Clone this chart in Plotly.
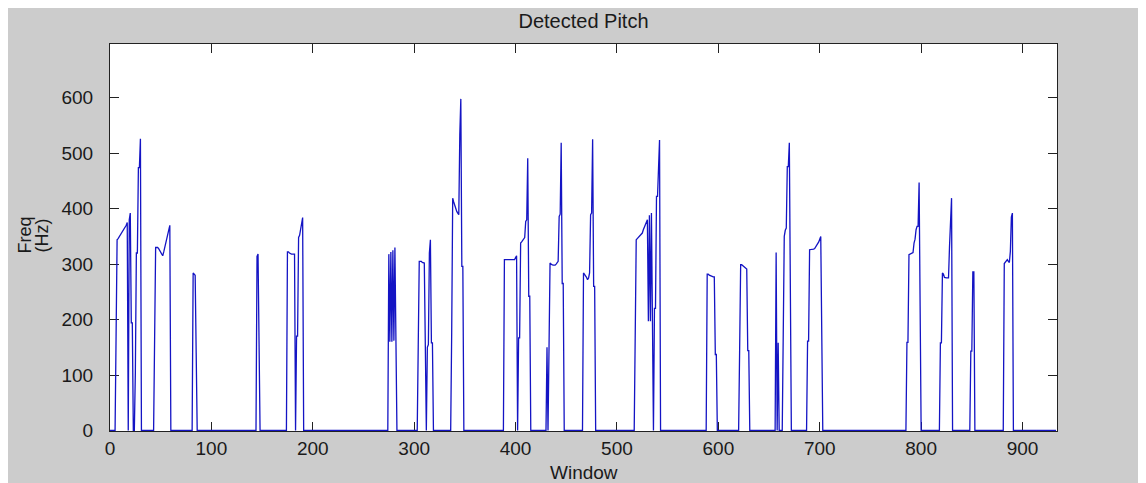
import numpy as np
import plotly.graph_objects as go

# ---- data: detected pitch (Hz) per analysis window; unvoiced windows are 0 ----
n_windows = 934
x_ticks = [0, 100, 200, 300, 400, 500, 600, 700, 800, 900]
y_ticks = [0, 100, 200, 300, 400, 500, 600]

seg_starts = [6, 25, 44, 82, 145, 175, 184, 275, 304, 337, 389, 403, 431, 467,
              518, 589, 621, 657, 664, 688, 786, 819, 849, 882]

seg_1 = [170, 344, 346, 349, 352, 355, 357, 360, 362, 365, 370, 375, 0, 380, 392, 194, 194]
seg_2 = [104, 320, 320, 474, 474, 526]
seg_3 = [164, 330, 330, 330, 328, 325, 320, 317, 315, 322, 330, 338, 345, 350, 360, 370]
seg_4 = [284, 282, 280, 140]
seg_5 = [314, 318, 159]
seg_6 = [322, 322, 320, 318, 318, 318, 318, 318]
seg_7 = [170, 170, 348, 352, 365, 375, 384]
seg_8 = [318, 160, 322, 160, 325, 162, 330, 158]
seg_9 = [152, 305, 305, 305, 303, 302, 302, 152, 0, 150, 155, 320, 344, 158, 158]
seg_10 = [176, 419, 412, 405, 400, 395, 392, 389, 533, 598, 296, 296]
seg_11 = [308, 308, 308, 308, 308, 308, 308, 308, 308, 308, 308, 312, 315]
seg_12 = [167, 167, 338, 340, 342, 345, 348, 377, 380, 491, 242, 242]
seg_13 = [150, 0, 150, 302, 300, 298, 298, 298, 298, 300, 303, 305, 386, 390, 519, 265, 265]
seg_14 = [284, 282, 280, 276, 272, 275, 284, 389, 392, 525, 260, 260]
seg_15 = [171, 344, 346, 348, 350, 352, 354, 356, 362, 366, 370, 374, 380, 197, 388,
          197, 392, 197, 0, 220, 220, 422, 422, 473, 524]
seg_16 = [282, 282, 280, 279, 278, 278, 277, 277, 137, 137]
seg_17 = [146, 299, 299, 297, 296, 294, 293, 291, 144, 144]
seg_18 = [321, 0, 158]
seg_19 = [173, 350, 361, 365, 476, 476, 519, 257]
seg_20 = [161, 161, 326, 326, 326, 326, 327, 328, 331, 334, 336, 340, 345, 350, 173]
seg_21 = [159, 159, 317, 318, 320, 321, 321, 338, 345, 362, 368, 368, 447, 224]
seg_22 = [158, 158, 284, 282, 276, 275, 275, 275, 275, 332, 383, 419]
seg_23 = [143, 143, 286, 286]
seg_24 = [301, 303, 306, 308, 305, 303, 323, 385, 392]

segments = [seg_1, seg_2, seg_3, seg_4, seg_5, seg_6, seg_7, seg_8, seg_9, seg_10,
            seg_11, seg_12, seg_13, seg_14, seg_15, seg_16, seg_17, seg_18, seg_19,
            seg_20, seg_21, seg_22, seg_23, seg_24]

window = np.arange(n_windows)
pitch = np.zeros(n_windows)
for start, vals in zip(seg_starts, segments):
    pitch[start:start + len(vals)] = vals

FONT = "Liberation Sans, Arial, sans-serif"
TXT = "#1a1a1a"

fig = go.Figure()
fig.add_trace(go.Scatter(x=window, y=pitch, mode="lines",
                         line=dict(color="#1414c4", width=1.3),
                         hoverinfo="skip", showlegend=False))

axis_common = dict(showgrid=False, zeroline=False, showline=True, mirror="ticks",
                   linecolor="#222222", linewidth=1, ticks="inside", ticklen=9,
                   tickcolor="#222222", tickwidth=1,
                   tickfont=dict(family=FONT, size=19, color=TXT),
                   layer="below traces")

# the page body adds an 8px offset, so the figure is 1138x475
W, H = 1138, 475
fig.update_layout(
    width=W, height=H, autosize=False,
    margin=dict(l=102, r=89, t=36, b=52, pad=0),
    paper_bgcolor="#cccccc", plot_bgcolor="white",
    title=dict(text="Detected Pitch", x=0.5, xref="paper", xanchor="center",
               y=1 - 13 / H, yanchor="middle",
               font=dict(family=FONT, size=20, color=TXT)),
    xaxis=dict(range=[0, n_windows], tickvals=x_ticks, **axis_common),
    yaxis=dict(range=[-1, 697], tickvals=y_ticks, ticklabelstandoff=12, **axis_common),
)

fig.add_annotation(text="Window", xref="paper", yref="paper", x=0.5, y=0,
                   yshift=-41, xanchor="center", yanchor="middle", showarrow=False,
                   font=dict(family=FONT, size=19, color=TXT))
fig.add_annotation(text="Freq", xref="paper", yref="paper", x=0, y=0.5,
                   xshift=-86, yshift=2, xanchor="center", yanchor="middle", textangle=-90,
                   showarrow=False, font=dict(family=FONT, size=18, color=TXT))
fig.add_annotation(text="(Hz)", xref="paper", yref="paper", x=0, y=0.5,
                   xshift=-69, yshift=2, xanchor="center", yanchor="middle", textangle=-90,
                   showarrow=False, font=dict(family=FONT, size=18, color=TXT))

fig.write_html("out.html")
